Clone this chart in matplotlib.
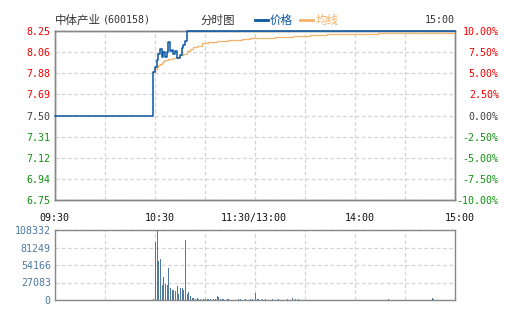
import numpy as np
import matplotlib.pyplot as plt
from matplotlib.transforms import ScaledTranslation

plt.rcParams["font.family"] = ["DejaVu Sans Mono", "Noto Sans CJK SC"]

# intraday price (minutes from 09:30, step breakpoints)
price_minutes = [0, 59, 60, 61, 62, 63, 64, 65, 66, 67, 68, 69, 70, 71, 72,
                 73, 74, 75, 76, 77, 78, 79, 240]
price_values = [7.50, 7.89, 7.93, 7.99, 8.05, 8.09, 8.02, 8.06, 8.02, 8.06,
                8.15, 8.07, 8.08, 8.05, 8.07, 8.01, 8.01, 8.04, 8.10, 8.13,
                8.16, 8.25, 8.25]

# average price line
avg_minutes = [59, 60, 61, 62, 63, 64, 65, 66, 68, 71, 73, 75, 77, 79, 81,
               83, 85, 88, 92, 97, 104, 112, 117, 121, 132, 143, 153, 163,
               194, 240]
avg_values = [7.89, 7.91, 7.93, 7.95, 7.96, 7.97, 7.98, 7.99, 8.00, 8.01,
              8.02, 8.04, 8.05, 8.07, 8.09, 8.11, 8.12, 8.14, 8.15, 8.16,
              8.17, 8.18, 8.185, 8.19, 8.20, 8.206, 8.213, 8.22, 8.23, 8.23]

# volume per minute
vol_minutes = [59, 60, 61, 62, 63, 64, 65, 66, 67, 68, 69, 70, 71, 72, 73,
               74, 75, 76, 77, 78, 79, 80, 81, 82, 83, 84, 85, 86, 87, 89,
               90, 91, 92, 93, 95, 96, 97, 98, 99, 100, 101, 103, 104, 110,
               111, 114, 117, 118, 120, 121, 122, 124, 126, 130, 134, 139,
               142, 144, 146, 200, 226, 227]
vol_values = [1500, 90200, 108332, 60300, 63400, 23200, 35600, 24200, 23200,
              50000, 19100, 15500, 15500, 14400, 21700, 9300, 18000, 19100,
              15500, 92800, 9300, 11900, 6200, 3600, 3100, 1500, 3100, 1500,
              1500, 1500, 1500, 1500, 1500, 1500, 1500, 1500, 6200, 4600,
              1500, 1500, 1500, 1500, 1500, 1500, 1500, 1500, 1500, 1500,
              10800, 1500, 1500, 1500, 1500, 1500, 1500, 1500, 3100, 1500,
              2000, 1000, 3100, 1500]

price_ticks = ["6.75", "6.94", "7.12", "7.31", "7.50", "7.69", "7.88", "8.06", "8.25"]
pct_ticks = ["-10.00%", "-7.50%", "-5.00%", "-2.50%", "0.00%",
             "2.50%", "5.00%", "7.50%", "10.00%"]
vol_ticks = ["0", "27083", "54166", "81249", "108332"]
time_labels = ["09:30", "", "10:30", "", "11:30/13:00", "", "14:00", "", "15:00"]

RED, GREEN, NEUTRAL = "#f00000", "#109010", "#404040"
SPINE, GRID = "#888888", "#d4d4d4"
BLUE, ORANGE, VOLC = "#0a56a4", "#f5b26b", "#4f7aa2"
FS = 7.2

W, H = 505, 330
fig = plt.figure(figsize=(W / 100, H / 100), dpi=100)
ax = fig.add_axes([55 / W, 1 - 200 / H, 400 / W, 169 / H])
axv = fig.add_axes([55 / W, 1 - 300 / H, 400 / W, 70 / H])

ax.plot(price_minutes, price_values, drawstyle="steps-post", color=BLUE, lw=1.1,
        zorder=4, clip_on=False)
ax.plot(avg_minutes, avg_values, drawstyle="steps-post", color=ORANGE, lw=0.9, zorder=3)

ypos = [float(t) for t in price_ticks]
ax.set_xlim(0, 240)
ax.set_ylim(ypos[0], ypos[-1])
ax.set_yticks(ypos)
ax.set_yticklabels(price_ticks)
ax.set_xticks(np.arange(0, 241, 30))
ax.set_xticklabels(time_labels)

def color_for(i):
    return NEUTRAL if i == 4 else (GREEN if i < 4 else RED)

for i, lab in enumerate(ax.get_yticklabels()):
    lab.set_color(color_for(i))
    lab.set_fontsize(FS)

ax.tick_params(axis="both", length=0)
ax.tick_params(axis="y", pad=3)
ax.tick_params(axis="x", pad=15, labelsize=FS, labelcolor="#111111")
offsets = [-1, 0, 5, 0, -1, 0, 5, 0, 4.5]
for lab, dx in zip(ax.get_xticklabels(), offsets):
    lab.set_verticalalignment("baseline")
    lab.set_transform(lab.get_transform() + ScaledTranslation(dx / 100, 0, fig.dpi_scale_trans))

ax2 = ax.twinx()
ax2.set_ylim(ax.get_ylim())
ax2.set_yticks(ypos)
ax2.set_yticklabels(pct_ticks)
ax2.tick_params(axis="y", length=0, pad=31.5)
for i, lab in enumerate(ax2.get_yticklabels()):
    lab.set_color(color_for(i))
    lab.set_fontsize(FS)
    lab.set_horizontalalignment("right")

ax.grid(True, color=GRID, lw=0.9, linestyle=(0, (3, 2)))
for a in (ax, ax2):
    for s in a.spines.values():
        s.set_color(SPINE)
        s.set_linewidth(1.0)
ax2.set_zorder(ax.get_zorder() - 1)
ax.patch.set_visible(False)

# volume panel
axv.bar(vol_minutes, vol_values, width=0.6, align="edge", color=VOLC, zorder=3)
vpos = [int(t) for t in vol_ticks]
axv.set_xlim(0, 240)
axv.set_ylim(0, vpos[-1])
axv.set_yticks(vpos)
axv.set_yticklabels(vol_ticks)
axv.set_xticks(np.arange(0, 241, 30))
axv.set_xticklabels([])
axv.tick_params(axis="both", length=0)
axv.tick_params(axis="y", pad=3, labelsize=FS, labelcolor=VOLC)
axv.grid(True, color=GRID, lw=0.9, linestyle=(0, (3, 2)))
for s in axv.spines.values():
    s.set_color(SPINE)
    s.set_linewidth(1.0)

# header
ty = 1 - 20 / H
cjk = ["Noto Sans CJK SC", "DejaVu Sans"]
fig.text(55 / W, ty, "中体产业", family=cjk, fontsize=8.3, color="#333333", va="center")
fig.text(103 / W, ty, "(600158)", fontsize=FS, color="#333333", va="center")
fig.text(200 / W, ty, "分时图", family=cjk, fontsize=8.3, color="#333333", va="center")
fig.lines.append(plt.Line2D([255 / W, 268 / W], [ty, ty], color=BLUE, lw=2, transform=fig.transFigure))
fig.text(270 / W, ty, "价格", family=cjk, fontsize=8.3, color=BLUE, va="center")
fig.lines.append(plt.Line2D([300 / W, 313 / W], [ty, ty], color=ORANGE, lw=2, transform=fig.transFigure))
fig.text(316 / W, ty, "均线", family=cjk, fontsize=8.3, color=ORANGE, va="center")
fig.text(455 / W, ty, "15:00", fontsize=FS, color="#333333", va="center", ha="right")

fig.savefig("out.png", dpi=100)
